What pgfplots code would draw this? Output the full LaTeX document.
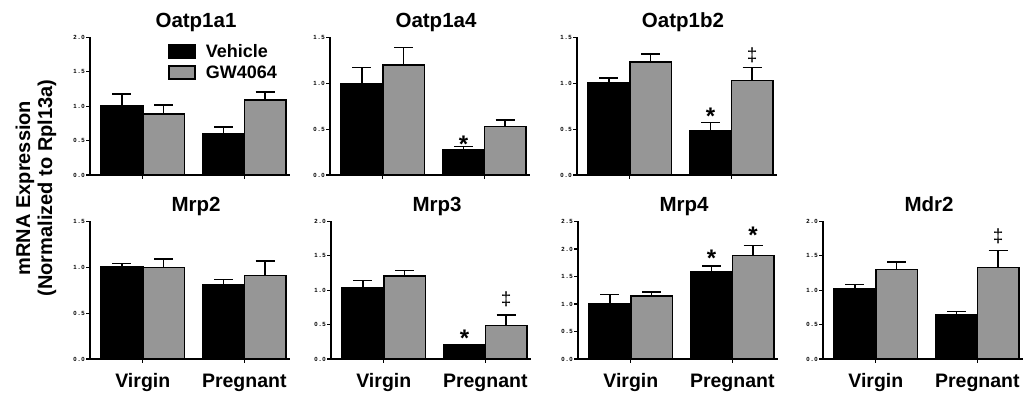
\documentclass[border=0pt]{standalone}
\usepackage{fontspec}
\setmainfont{Liberation Sans}
\newfontfamily\tickfont[LetterSpace=25]{Liberation Sans}
\usepackage{pgfplots}
\pgfplotsset{compat=1.18}
\definecolor{gwgray}{RGB}{150,150,150}

\pgfplotsset{
  panel/.style={
    scale only axis, width=200pt, height=137.5pt,
    axis lines=left, axis line style={-, line width=1.4pt},
    xmin=-0.52, xmax=1.45, ymin=0,
    ybar=0pt, bar width=0.41,
    xtick={0,1}, tick align=outside, major tick length=4pt,
    every tick/.style={line width=1.1pt, black},
    yticklabel style={font=\tickfont\fontsize{6}{7}\selectfont\bfseries, inner sep=1pt,
      /pgf/number format/.cd, fixed, fixed zerofill, precision=1, assume math mode=true},
    xticklabel style={font=\fontsize{19.5}{19.5}\selectfont\bfseries, anchor=base, yshift=-25pt},
    clip=false,
  },
  eb/.style={error bars/y dir=plus, error bars/y explicit,
    error bars/error bar style={line width=1.4pt, black, solid},
    error bars/error mark=-,
    error bars/error mark options={rotate=90, mark size=9.5pt, line width=1.4pt, black}},
  veh/.style={fill=black, draw=black, line width=1.6pt, eb},
  gw/.style={fill=gwgray, draw=black, line width=1.6pt, eb},
}
\tikzset{
  starnode/.style={font=\fontsize{24}{24}\selectfont\bfseries, anchor=base, yshift=-13.2pt, inner sep=0pt},
  dagnode/.style={font=\fontsize{19}{19}\selectfont, anchor=base, yshift=-5.4pt, inner sep=0pt},
  ttl/.style={font=\fontsize{20.5}{21}\selectfont\bfseries, anchor=base, yshift=10pt, inner sep=0pt},
}

\begin{document}
\begin{tikzpicture}
\useasboundingbox (0,0) rectangle (1028pt,395pt);

% y label
\node[rotate=90, align=center, font=\fontsize{20}{22}\selectfont\bfseries] at (36pt,207pt)
  {mRNA Expression\\(Normalized to Rpl13a)};

% Oatp1a1
\begin{axis}[panel, at={(90pt,220pt)}, anchor=south west, ymax=2, ytick={0,0.5,1,1.5,2},
  xticklabels={{},{}},
  legend style={at={(axis description cs:0.39,0.965)}, anchor=north west, draw=none, fill=none,
    font=\fontsize{18}{20}\selectfont\bfseries, row sep=3pt, column sep=8pt, inner sep=0pt, cells={anchor=west}}]
\addplot[veh, legend image code/.code={\draw[fill=black, draw=black, line width=1.6pt] (0pt,-6pt) rectangle (26pt,7pt);}]
  coordinates {(0,1.00) +- (0,0.18) (1,0.60) +- (0,0.10)};
\addplot[gw, legend image code/.code={\draw[fill=gwgray, draw=black, line width=1.6pt] (0pt,-6pt) rectangle (26pt,7pt);}]
  coordinates {(0,0.89) +- (0,0.13) (1,1.09) +- (0,0.12)};
\legend{Vehicle, GW4064}
\node[ttl] at (axis description cs:0.53,1) {Oatp1a1};
\end{axis}

% Oatp1a4
\begin{axis}[panel, at={(330pt,220pt)}, anchor=south west, ymax=1.5, ytick={0,0.5,1,1.5},
  xticklabels={{},{}}]
\addplot[veh] coordinates {(0,1.00) +- (0,0.17) (1,0.276) +- (0,0.034)};
\addplot[gw] coordinates {(0,1.20) +- (0,0.19) (1,0.53) +- (0,0.07)};
\node[starnode] at (axis cs:0.795,0.39) {*};
\node[ttl] at (axis description cs:0.53,1) {Oatp1a4};
\end{axis}

% Oatp1b2
\begin{axis}[panel, at={(577pt,220pt)}, anchor=south west, ymax=1.5, ytick={0,0.5,1,1.5},
  xticklabels={{},{}}]
\addplot[veh] coordinates {(0,1.01) +- (0,0.05) (1,0.48) +- (0,0.09)};
\addplot[gw] coordinates {(0,1.23) +- (0,0.09) (1,1.03) +- (0,0.14)};
\node[starnode] at (axis cs:0.795,0.70) {*};
\node[dagnode] at (axis cs:1.205,1.30) {‡};
\node[ttl] at (axis description cs:0.53,1) {Oatp1b2};
\end{axis}

% Mrp2
\begin{axis}[panel, at={(90pt,36pt)}, anchor=south west, ymax=1.5, ytick={0,0.5,1,1.5},
  xticklabels={Virgin,Pregnant}]
\addplot[veh] coordinates {(0,1.01) +- (0,0.03) (1,0.81) +- (0,0.055)};
\addplot[gw] coordinates {(0,1.00) +- (0,0.09) (1,0.91) +- (0,0.16)};
\node[ttl] at (axis description cs:0.53,1) {Mrp2};
\end{axis}

% Mrp3
\begin{axis}[panel, at={(331pt,36pt)}, anchor=south west, ymax=2, ytick={0,0.5,1,1.5,2},
  xticklabels={Virgin,Pregnant}]
\addplot[veh] coordinates {(0,1.04) +- (0,0.10) (1,0.20) +- (0,0.01)};
\addplot[gw] coordinates {(0,1.21) +- (0,0.08) (1,0.49) +- (0,0.15)};
\node[starnode] at (axis cs:0.795,0.37) {*};
\node[dagnode] at (axis cs:1.205,0.86) {‡};
\node[ttl] at (axis description cs:0.53,1) {Mrp3};
\end{axis}

% Mrp4
\begin{axis}[panel, at={(578pt,36pt)}, anchor=south west, ymax=2.5, ytick={0,0.5,1,1.5,2,2.5},
  xticklabels={Virgin,Pregnant}]
\addplot[veh] coordinates {(0,1.01) +- (0,0.16) (1,1.59) +- (0,0.10)};
\addplot[gw] coordinates {(0,1.15) +- (0,0.07) (1,1.88) +- (0,0.18)};
\node[starnode] at (axis cs:0.795,1.93) {*};
\node[starnode] at (axis cs:1.205,2.34) {*};
\node[ttl] at (axis description cs:0.53,1) {Mrp4};
\end{axis}

% Mdr2
\begin{axis}[panel, at={(823pt,36pt)}, anchor=south west, ymax=2, ytick={0,0.5,1,1.5,2},
  xticklabels={Virgin,Pregnant}]
\addplot[veh] coordinates {(0,1.02) +- (0,0.06) (1,0.64) +- (0,0.05)};
\addplot[gw] coordinates {(0,1.30) +- (0,0.11) (1,1.33) +- (0,0.25)};
\node[dagnode] at (axis cs:1.205,1.77) {‡};
\node[ttl] at (axis description cs:0.53,1) {Mdr2};
\end{axis}
\end{tikzpicture}
\end{document}
